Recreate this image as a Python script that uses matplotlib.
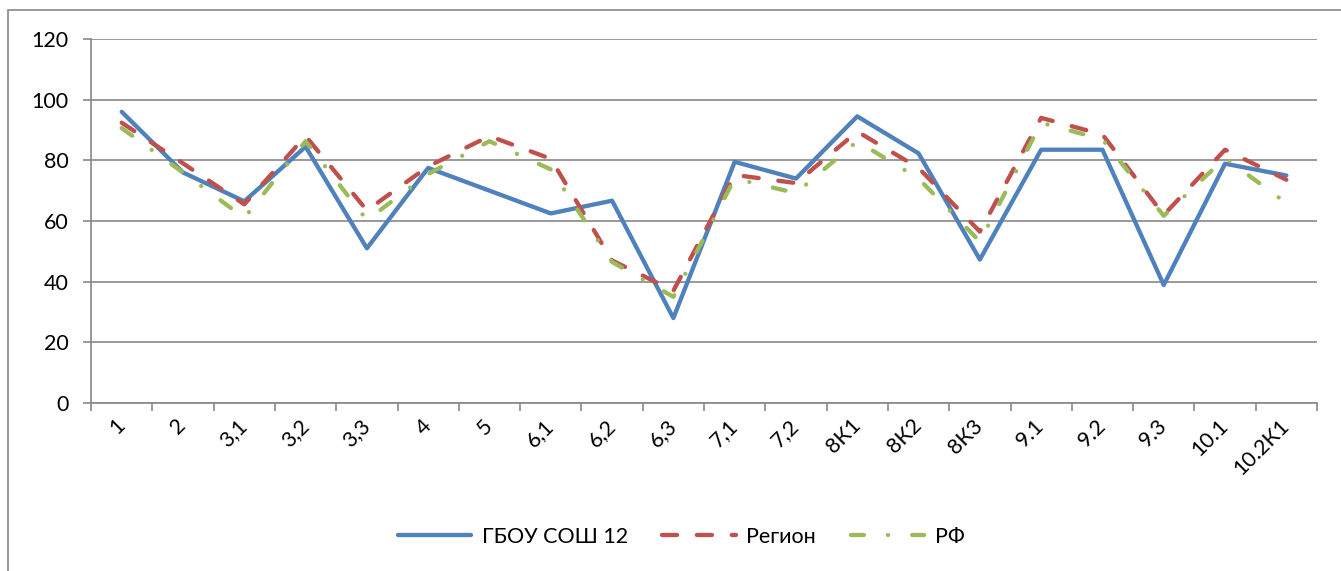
import matplotlib
matplotlib.use('Agg')
import matplotlib.pyplot as plt
from matplotlib.patches import Rectangle
from matplotlib.ticker import FixedLocator

categories = ['1', '2', '3,1', '3,2', '3,3', '4', '5', '6,1', '6,2', '6,3',
              '7,1', '7,2', '8К1', '8К2', '8К3', '9.1', '9.2', '9.3', '10.1', '10.2К1']
school = [96, 76, 66.5, 84.5, 51, 77.5, 70, 62.5, 66.7, 28,
          79.5, 74, 94.5, 82.3, 47.3, 83.5, 83.5, 38.9, 78.9, 75]
region = [92.4, 79, 65.5, 88, 63.5, 78, 88, 80.5, 47, 37,
          75.2, 72.5, 89.5, 77.5, 56.5, 94, 88.5, 62, 83.5, 73.6]
rf = [90.6, 76, 61, 86.3, 60.3, 75.5, 86.3, 77, 46.5, 35,
      74, 69.2, 86.3, 74, 53.2, 92.4, 86.9, 61.7, 80.8, 65.9]
series_names = ['ГБОУ СОШ 12', 'Регион', 'РФ']

plt.rcParams['font.family'] = ['Lato', 'Noto Sans', 'DejaVu Sans']
grey = '#878787'
fs = 15.5

fig = plt.figure(figsize=(13.41, 5.71), dpi=100)
ax = fig.add_axes([0.0679, 0.2942, 0.9142, 0.6375])

x = list(range(len(categories)))
ax.plot(x, school, color='#4F81BD', lw=3.1, solid_capstyle='round',
        solid_joinstyle='round', label=series_names[0], zorder=3)
ax.plot(x, region, color='#C0504D', lw=3.1, linestyle=(0, (3.5, 4.6)),
        dash_capstyle='round', label=series_names[1], zorder=4)
ax.plot(x, rf, color='#9BBB59', lw=3.1, linestyle=(0, (3.0, 5.6, 0.01, 5.6)),
        dash_capstyle='round', label=series_names[2], zorder=5)

ax.set_xlim(-0.5, len(categories) - 0.5)
ax.set_ylim(0, 120)
ax.set_yticks(range(0, 121, 20))
ax.yaxis.grid(True, color=grey, lw=1.2)
ax.set_axisbelow(True)

ax.set_xticks(x)
ax.set_xticklabels(categories, rotation=45, ha='right', va='center',
                   rotation_mode='anchor', fontsize=fs)
ax.xaxis.set_minor_locator(FixedLocator([i - 0.5 for i in range(len(categories) + 1)]))
ax.tick_params(axis='x', which='major', length=0, pad=14)
ax.tick_params(axis='x', which='minor', length=6, width=1.2, color=grey)
ax.tick_params(axis='y', length=6, width=1.2, color=grey, labelsize=fs, pad=10)

for side in ['top', 'right']:
    ax.spines[side].set_visible(False)
for side in ['left', 'bottom']:
    ax.spines[side].set_color(grey)
    ax.spines[side].set_linewidth(1.2)

fig.legend(loc='center', bbox_to_anchor=(0.508, 0.06), ncol=3, frameon=False,
           fontsize=fs, handlelength=3.4, columnspacing=1.6, handletextpad=0.5)

# chart area border, open at right and bottom like the source image
fig.patches.append(Rectangle((8 / 1341, -0.2), 1.2, 1.2 - 9.5 / 571,
                             transform=fig.transFigure, fill=False,
                             edgecolor=grey, lw=1.2))

fig.savefig('out.png', dpi=100)
